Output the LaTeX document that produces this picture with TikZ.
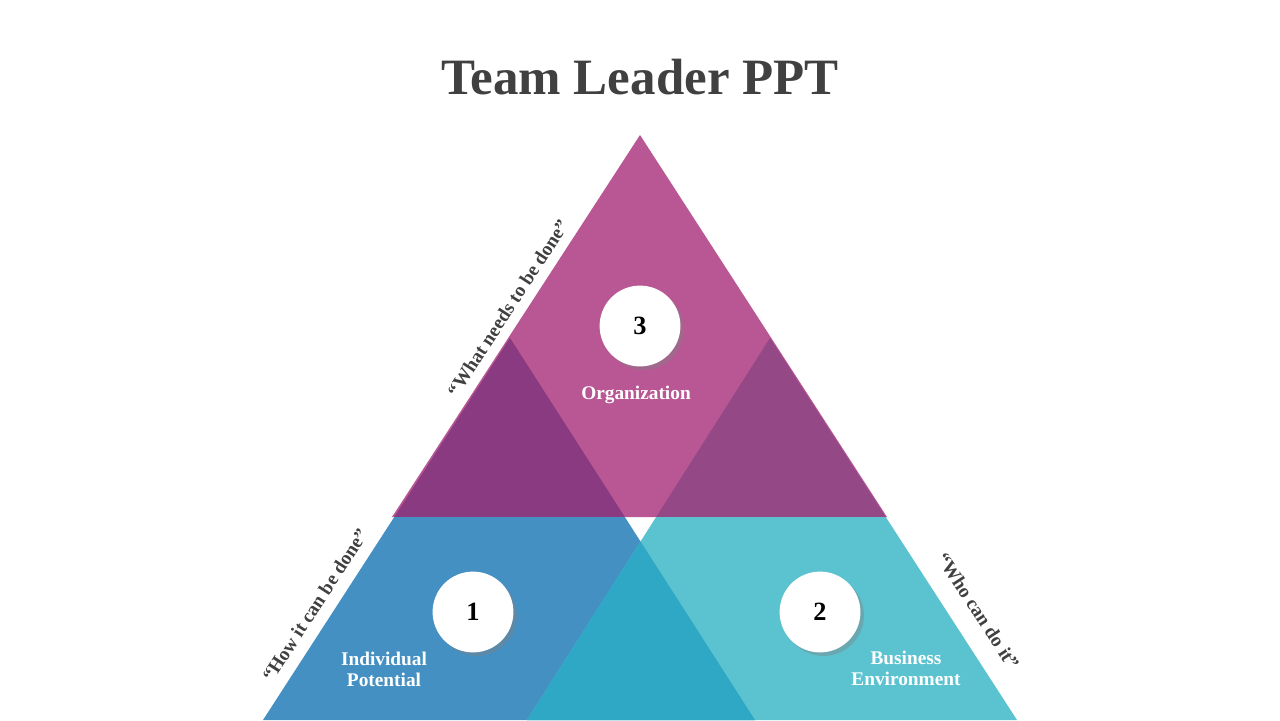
\documentclass[tikz,border=0pt]{standalone}
\usepackage{fontspec}
\setmainfont{Liberation Serif}
\usetikzlibrary{shadows}
\definecolor{pinkT}{HTML}{B85794}
\definecolor{plumL}{HTML}{8A3A80}
\definecolor{plumR}{HTML}{944886}
\definecolor{blueL}{HTML}{4590C3}
\definecolor{tealR}{HTML}{5BC3D0}
\definecolor{tealM}{HTML}{2EA8C4}
\definecolor{txtgray}{HTML}{404040}
\tikzset{
  numdot/.style={circle, fill=white, minimum size=46pt, font=\fontsize{15}{15}\selectfont\bfseries,
    drop shadow={shadow xshift=2pt, shadow yshift=-2pt, opacity=0.4}},
  lbl/.style={text=white, align=center, font=\fontsize{11}{12}\selectfont\bfseries},
  quote/.style={text=txtgray, font=\fontsize{11}{12}\selectfont\bfseries},
}
\begin{document}
\begin{tikzpicture}[x=0.02cm, y=-0.02cm]
  \useasboundingbox (0,0) rectangle (1280,720);
  % top triangle
  \fill[pinkT] (640,135) -- (392,517) -- (887,517) -- cycle;
  \begin{scope}
    \clip (640,135) -- (392,517) -- (887,517) -- cycle;
    \fill[plumL] (510,338) -- (263,720) -- (755,720) -- cycle;
    \fill[plumR] (770,338) -- (527,720) -- (1017,720) -- cycle;
  \end{scope}
  % bottom triangles
  \begin{scope}
    \clip (0,517) rectangle (1280,720);
    \fill[blueL] (510,338) -- (263,720) -- (755,720) -- cycle;
    \fill[tealR] (770,338) -- (527,720) -- (1017,720) -- cycle;
    \clip (510,338) -- (263,720) -- (755,720) -- cycle;
    \fill[tealM] (770,338) -- (527,720) -- (1017,720) -- cycle;
  \end{scope}
  \node[text=txtgray, font=\fontsize{29}{30}\selectfont\bfseries] (title) at (640,77) {Team Leader PPT};
  \node[numdot] (n3) at (640,326) {3};
  \node[numdot] (n1) at (473,612) {1};
  \node[numdot] (n2) at (820,612) {2};
  \node[lbl] (org) at (636,395) {Organization};
  \node[lbl] (ind) at (384,669) {Individual\\Potential};
  \node[lbl] (bus) at (906,668) {Business\\Environment};
  \node[quote, rotate=57] (q3) at (508,308) {“What needs to be done”};
  \node[quote, rotate=57] (q1) at (315,605) {“How it can be done”};
  \node[quote, rotate=-57] (q2) at (978,611) {“Who can do it”};
\end{tikzpicture}
\end{document}
